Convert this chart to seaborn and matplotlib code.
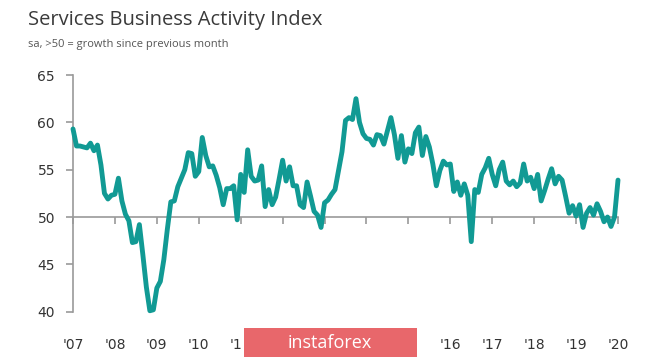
import matplotlib
matplotlib.use("Agg")
import matplotlib.pyplot as plt
import seaborn as sns
import numpy as np
import pandas as pd
from matplotlib.patches import Rectangle
from matplotlib.transforms import Bbox

# Monthly index values, Jan 2007 .. Jan 2020
values_2007 = [59.3, 57.5, 57.5, 57.4, 57.3, 57.8, 57.0, 57.6, 55.5, 52.5, 51.9, 52.3]
values_2008 = [52.4, 54.1, 51.7, 50.3, 49.6, 47.3, 47.4, 49.2, 46.0, 42.6, 40.1, 40.2]
values_2009 = [42.5, 43.2, 45.5, 48.7, 51.6, 51.7, 53.2, 54.1, 55.0, 56.8, 56.7, 54.3]
values_2010 = [54.8, 58.4, 56.5, 55.3, 55.4, 54.4, 53.1, 51.3, 53.0, 53.0, 53.3, 49.7]
values_2011 = [54.5, 52.6, 57.1, 54.3, 53.8, 53.9, 55.4, 51.1, 52.9, 51.3, 52.1, 54.0]
values_2012 = [56.0, 53.8, 55.3, 53.3, 53.3, 51.3, 51.0, 53.7, 52.2, 50.6, 50.2, 48.9]
values_2013 = [51.5, 51.8, 52.4, 52.9, 54.9, 56.9, 60.2, 60.5, 60.3, 62.5, 60.0, 58.8]
values_2014 = [58.3, 58.2, 57.6, 58.7, 58.6, 57.7, 59.1, 60.5, 58.7, 56.2, 58.6, 55.8]
values_2015 = [57.2, 56.7, 58.9, 59.5, 56.5, 58.5, 57.4, 55.6, 53.3, 54.9, 55.9, 55.5]
values_2016 = [55.6, 52.7, 53.7, 52.3, 53.5, 52.3, 47.4, 52.9, 52.6, 54.5, 55.2, 56.2]
values_2017 = [54.5, 53.3, 55.0, 55.8, 53.8, 53.4, 53.8, 53.2, 53.6, 55.6, 53.8, 54.2]
values_2018 = [53.0, 54.5, 51.7, 52.8, 54.0, 55.1, 53.5, 54.3, 53.9, 52.2, 50.4, 51.2]
values_2019 = [50.1, 51.3, 48.9, 50.4, 51.0, 50.2, 51.4, 50.6, 49.5, 50.0, 49.0, 50.0]
values_2020 = [53.9]

years = list(range(2007, 2021))
# labels for '12-'15 sit under the watermark in the reference and are not visible
year_labels = ["'07", "'08", "'09", "'10", "'11", "", "", "",
               "", "'16", "'17", "'18", "'19", "'20"]
y_ticks = [40, 45, 50, 55, 60, 65]

values = (values_2007 + values_2008 + values_2009 + values_2010 + values_2011 +
          values_2012 + values_2013 + values_2014 + values_2015 + values_2016 +
          values_2017 + values_2018 + values_2019 + values_2020)
dates = 2007 + np.arange(len(values)) / 12.0
df = pd.DataFrame({"date": dates, "index": values})

sns.set_style("white")
plt.rcParams["font.family"] = ["Open Sans", "DejaVu Sans"]

fig = plt.figure(figsize=(6.65, 3.59), dpi=100)
ax = fig.add_axes([73 / 665, 1 - 311.7 / 359, (618 - 73) / 665, (311.7 - 75) / 359])

sns.lineplot(data=df, x="date", y="index", ax=ax, color="#119a94",
             linewidth=3.5, clip_on=False, zorder=3)

ax.set_xlim(2007, 2020)
ax.set_ylim(40, 65)
ax.set_xlabel("")
ax.set_ylabel("")

axis_grey = "#9a9a9a"
for s in ["top", "right"]:
    ax.spines[s].set_visible(False)
ax.spines["left"].set_color(axis_grey)
ax.spines["left"].set_linewidth(1.2)
ax.spines["bottom"].set_position(("data", 50))
ax.spines["bottom"].set_color(axis_grey)
ax.spines["bottom"].set_linewidth(1.2)
ax.spines["bottom"].set_zorder(2)

ax.set_yticks(y_ticks)
ax.set_yticklabels([str(v) for v in y_ticks])
ax.set_xticks(years)
ax.set_xticklabels(year_labels)

ax.tick_params(axis="y", direction="out", length=5, width=1.2, color=axis_grey,
               labelcolor="#333333", pad=8, left=True)
ax.tick_params(axis="x", direction="out", length=5, width=1.2, color=axis_grey,
               labelcolor="#333333", pad=82, bottom=True)
for lab in ax.get_xticklabels() + ax.get_yticklabels():
    lab.set_family(["DejaVu Sans"])
    lab.set_fontsize(10)

# '11 label is partly hidden by the watermark: clip it at the box edge
clip = Bbox.from_extents(0, 0, 243, 359)
ax.get_xticklabels()[4].set_clip_box(clip)
ax.get_xticklabels()[4].set_clip_on(True)

fig.text(28 / 665, 1 - 20 / 359, "Services Business Activity Index",
         fontsize=14.5, color="#3a3a3a", ha="left", va="center")
fig.text(28 / 665, 1 - 45 / 359, "sa, >50 = growth since previous month",
         fontsize=8, color="#555555", ha="left", va="center")

# watermark overlay
fig.patches.append(Rectangle((244 / 665, 1 - 357 / 359), (417 - 244) / 665, 29 / 359,
                             transform=fig.transFigure, facecolor="#e8676b",
                             edgecolor="none", zorder=10))
fig.text(330 / 665, 1 - 343 / 359, "instaforex", fontsize=13, color="white",
         ha="center", va="center", zorder=11)

fig.savefig("out.png", dpi=100)
